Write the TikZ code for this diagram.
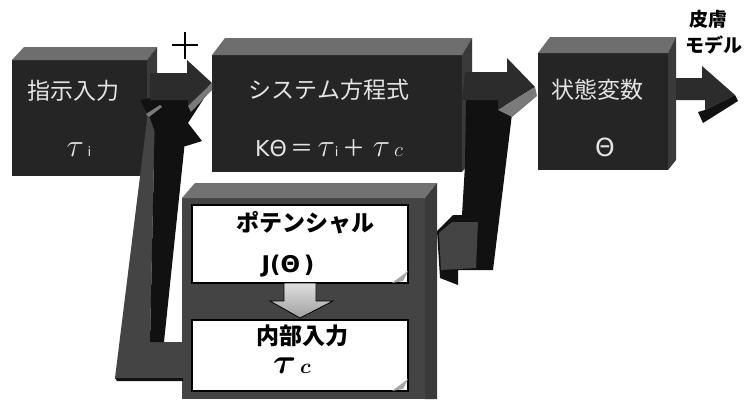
\documentclass[tikz,border=0pt]{standalone}
\usepackage{graphicx}
\usepackage{fontspec}
\newfontfamily\cjk{Noto Sans CJK JP}
\newfontfamily\lat{DejaVu Sans}
\definecolor{boxfront}{HTML}{252525}
\definecolor{boxtop}{HTML}{6E6E6E}
\definecolor{boxside}{HTML}{3A3A3A}
\definecolor{framefront}{HTML}{444444}
\definecolor{frametop}{HTML}{727272}
\definecolor{arrowfront}{HTML}{2C2C2C}
\definecolor{arrowdark}{HTML}{111111}
\definecolor{arrowgray}{HTML}{7A7A7A}
\definecolor{txtlight}{HTML}{E4E4E4}
\newcommand{\fsz}[1]{\fontsize{#1}{#1}\selectfont}
\newcommand{\bigtau}{{\fsz{20}\scalebox{1.55}{$\tau$}}}
\newcommand{\bigtaub}{{\fsz{20}\boldmath\scalebox{1.7}{$\tau$}}}
\begin{document}
\begin{tikzpicture}[x=1pt,y=-1pt,
  frontface/.style={fill=boxfront},
  topface/.style={fill=boxtop},
  sideface/.style={fill=boxside},
  arrowbody/.style={fill=arrowfront},
  arrowshadow/.style={fill=arrowdark},
  arrowlight/.style={fill=arrowgray},
  wtxt/.style={text=txtlight,font=\cjk\fsz{23},inner sep=0pt},
  btxt/.style={text=black,font=\cjk\bfseries\fsz{23},inner sep=0pt},
  ltxt/.style={text=black,font=\cjk\bfseries\fsz{19},inner sep=0pt},
  paper/.style={fill=white,draw=black,line width=1.2pt}]
\useasboundingbox[fill=white] (0,0) rectangle (751,399);

% ---- bottom frame box (box 4)
\fill[fill=framefront] (182,198) rectangle (425,399);
\fill[fill=frametop] (182,198) -- (195,183) -- (437,183) -- (425,198) -- cycle;
\fill[fill=boxside] (425,198) -- (437,183) -- (437,399) -- (425,399) -- cycle;

% inner papers
\draw[paper] (192,205) rectangle (408,283);
\fill[gray!70] (392,283) -- (408,271) -- (403,281) -- cycle;
\draw[paper] (192,320) rectangle (408,391);
\fill[gray!70] (392,391) -- (408,379) -- (403,389) -- cycle;

% small gray arrow between papers
\shade[top color=gray!25,bottom color=gray!75,draw=black,line width=0.8pt]
  (284,283) -- (316,283) -- (316,301) -- (333,301) -- (300,318) -- (270,301) -- (284,301) -- cycle;

% ---- box 1
\fill[frontface] (12,60) rectangle (147,176);
\fill[topface] (12,60) -- (24,47) -- (157,47) -- (147,60) -- cycle;
\fill[sideface] (147,60) -- (157,47) -- (157,163) -- (147,176) -- cycle;

% ---- box 2
\fill[frontface] (212,55) rectangle (462,172);
\fill[topface] (212,55) -- (225,38) -- (472,38) -- (462,55) -- cycle;
\fill[sideface] (462,55) -- (472,38) -- (472,160) -- (462,172) -- cycle;

% ---- box 3
\fill[frontface] (538,53) rectangle (668,170);
\fill[topface] (538,53) -- (550,37) -- (676,37) -- (668,53) -- cycle;
\fill[sideface] (668,53) -- (676,37) -- (676,160) -- (668,170) -- cycle;

% ---- left feedback band (from frame up to the summing point)
\fill[fill=framefront] (148,112) -- (155,112) -- (150,342) -- (183,342) -- (183,378) -- (115,378) -- cycle;
\fill[arrowdark] (155,112) -- (188,112) -- (164,342) -- (150,342) -- cycle;
\fill[arrowdark] (115,378) -- (183,378) -- (183,381) -- (117,381) -- cycle;
% its upward head (under arrow 1)
\fill[arrowdark] (140,100) -- (212,86) -- (188,123) -- (202,141) -- (186,146) -- (160,146) -- (150,118) -- cycle;
\fill[arrowlight] (146,114) -- (160,105) -- (162,107) -- (149,117) -- cycle;

% ---- arrow 1 (box1 -> box2)
\fill[arrowbody] (150,73) -- (187,73) -- (187,60) -- (212,83) -- (188,106) -- (188,100) -- (150,100) -- cycle;
\fill[arrowlight] (212,83) -- (212,90) -- (191,112) -- (188,106) -- cycle;

% ---- right feedback band (from state variable down to the frame)
\fill[arrowdark] (466,100) -- (500,100) -- (512,114) -- (493,270) -- (458,270) -- (458,285) -- (440,278)
  -- (437,231) -- (453,215) -- (462,215) -- (465,165) -- cycle;
\fill[fill=framefront] (439,233) -- (452,222) -- (478,222) -- (476,268) -- (441,270) -- cycle;

% ---- arrow 2 (box2 -> box3)
\fill[arrowbody] (465,72) -- (507,72) -- (507,58) -- (535,87) -- (498,110) -- (498,100) -- (462,100) -- cycle;
\fill[arrowlight] (535,87) -- (537,96) -- (512,117) -- (498,110) -- cycle;

% ---- arrow 3 (box3 -> out)
\fill[arrowbody] (676,78) -- (702,78) -- (702,66) -- (735,95) -- (705,110) -- (705,100) -- (676,100) -- cycle;
\fill[arrowshadow] (735,95) -- (738,101) -- (703,123) -- (698,112) -- (705,110) -- cycle;

% ---- plus sign
\draw[line width=1.6pt] (172,45) -- (198,45) (185,32) -- (185,59);

% ---- texts
\node[wtxt] (t1) at (73,91) {指示入力};
\node[wtxt] (t1b) at (79,150) {\bigtau\,{\lat\fsz{13}i}};
\node[wtxt] (t2) at (329,90) {システム方程式};
\node[wtxt] (t2b) at (329,148) {{\lat\fsz{22}KΘ}\,＝\,\bigtau{\lat\fsz{13}i}\,＋\,\,\bigtau\,{\fsz{20}$c$}};
\node[wtxt] (t3) at (597,90) {状態変数};
\node[wtxt] (t3b) at (605,147) {\lat\fsz{25}Θ};
\node[btxt] (p1) at (305,223) {ポテンシャル};
\node[btxt] (p1b) at (288,266) {\lat\fsz{23}J(Θ\,)};
\node[btxt] (p2) at (302,336) {内部入力};
\node[btxt] (p2b) at (292,366) {\bigtaub\,{\boldmath\fsz{22}$c$}};
\node[ltxt] (o1) at (708,19) {皮膚};
\node[ltxt] (o2) at (714,45) {モデル};
\end{tikzpicture}
\end{document}
